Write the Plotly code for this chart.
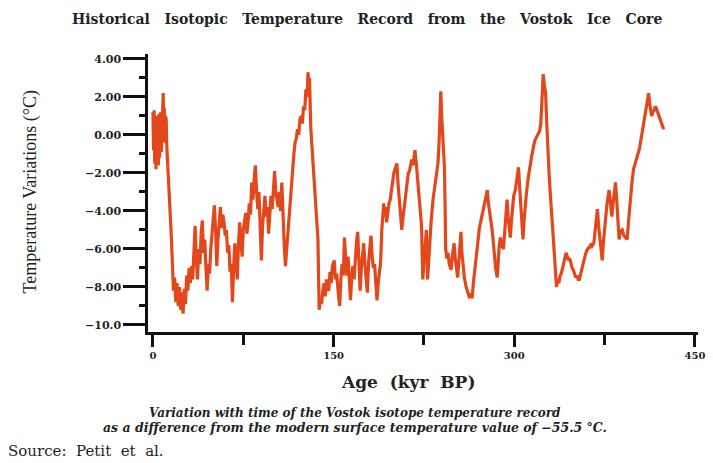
import plotly.graph_objects as go

# Age (kyr BP) and temperature deviation (°C)
age = [0, 0.5, 1, 1.5, 2, 2.5, 3, 3.5, 4, 4.5, 5, 5.5, 6, 6.5, 7, 7.5, 8, 8.5, 9, 9.5,
       10, 10.5, 11, 11.5, 12, 13, 14, 15, 16, 17, 18, 19, 20, 21, 22, 23, 24, 25, 26, 27,
       28, 29, 30, 31, 32, 33, 34, 35, 36, 37, 38, 39, 40, 41, 42, 43, 44, 45, 46, 47,
       48, 49, 50, 51, 52, 53, 54, 55, 56, 57, 58, 59, 60, 61, 62, 63, 64, 65, 66, 67,
       68, 69, 70, 71, 72, 73, 74, 75, 76, 77, 78, 79, 80, 81, 82, 83, 84, 85, 86, 87,
       88, 89, 90, 91, 92, 93, 94, 95, 96, 97, 98, 99, 100, 101, 102, 103, 104, 105, 106, 107,
       108, 109, 110, 111, 112, 113, 114, 115, 116, 117, 118, 119, 120, 121, 122, 123, 124, 125, 126, 127,
       128, 128.7, 129.5, 130, 131, 132, 133, 134, 135, 136, 137, 137.5, 138, 139, 140, 141, 142, 143, 144, 145,
       146, 147, 148, 149, 150.5, 151.5, 152.5, 154, 155, 156, 157, 158, 159, 160, 161, 162, 163, 164, 165, 166,
       167, 168, 169, 170, 171, 172, 173, 174, 175, 176, 177, 178, 179, 180, 181, 182, 183, 184, 185, 186,
       187, 188, 189, 190, 191, 191.6, 192.5, 193, 194, 195, 196, 197, 198, 199, 200, 201, 202.5, 203.5, 204.5, 205.5,
       206.6, 207.5, 208.5, 209.5, 210.7, 212, 213, 214.8, 216, 217.5, 218.5, 220, 221, 222, 223, 224, 225, 226, 227, 228,
       229, 230, 231, 232.5, 233.5, 234.5, 235.5, 236.6, 237.5, 238.3, 239, 239.7, 240.5, 241.3, 242, 242.6, 243, 244, 245, 246,
       247.5, 248.5, 250, 251, 252, 253, 254, 255.7, 256.5, 257.5, 258.5, 260, 261.5, 262.5, 264, 265, 266, 267, 268, 269,
       270, 271, 272, 273, 274, 275, 276, 277.6, 278.5, 279.5, 280.5, 281.6, 282.5, 283.5, 284.5, 285.8, 286.5, 287.5, 288.5, 289.5,
       291, 292, 293, 294, 295, 296.7, 297.5, 298.5, 299.5, 300.8, 302, 303.5, 304.5, 305.5, 306.5, 307.2, 308, 309, 310, 311.7,
       313, 314.5, 316, 317, 318.5, 320, 321, 322, 323, 324, 325, 326, 327, 328, 329, 330, 331, 332, 333.6, 335,
       336, 337, 338, 339, 340, 341, 342, 343, 344, 345, 346, 347, 348, 349, 350, 351, 352, 353, 354, 355,
       356, 357, 358, 359, 360, 361, 362, 363, 364, 365, 366, 367, 368, 369, 370, 371, 372, 373, 374, 375,
       376, 377, 378.7, 380, 381, 382, 383, 384, 385, 386, 387, 388, 389.6, 391, 392, 393.7, 394.5, 395.5, 396.5, 397.5,
       399, 400, 401, 402, 403, 404, 405, 406, 407, 408, 409, 410, 411.5, 412.5, 413.5, 414, 415, 416, 417, 418,
       419, 420, 421, 422, 423, 424]

temp = [1.2, -0.8, 1.3, -1.5, 0.9, -1.8, 1.0, -0.6, 0.4, -1.6, 1.1, -1.2, 0.7, 1.2, -0.9, 0.5, 1.8, 2.2, 0.6, 1.4,
        -0.4, 1.0, 0.8, -0.6, -1.2, -2.0, -3.5, -5.0, -6.5, -8.2, -7.5, -8.8, -7.8, -9.0, -8.0, -9.2, -8.3, -9.4, -8.1, -8.9,
        -7.4, -8.2, -7.0, -7.8, -6.9, -7.6, -6.2, -4.8, -6.5, -7.6, -6.0, -6.8, -5.2, -4.5, -6.2, -5.5, -7.0, -8.2, -6.8, -7.3,
        -6.0, -5.2, -4.2, -3.7, -5.0, -6.9, -5.5, -4.4, -3.8, -4.9, -4.2, -4.6, -5.3, -5.0, -6.2, -5.8, -7.2, -6.8, -8.8, -7.0,
        -5.7, -6.6, -7.6, -5.8, -4.6, -5.5, -6.4, -5.0, -4.5, -4.1, -5.2, -4.6, -3.6, -4.2, -2.5, -3.4, -2.4, -1.6, -2.9, -3.9,
        -3.0, -5.2, -6.6, -4.8, -3.9, -3.2, -4.3, -3.8, -5.2, -4.0, -3.2, -3.9, -2.6, -1.9, -3.0, -3.4, -3.8, -3.0, -4.0, -2.5,
        -4.5, -5.8, -6.9, -6.0, -5.4, -4.2, -3.2, -2.5, -1.8, -1.0, -0.4, -0.2, 0.3, 0.0, 0.8, 1.0, 0.6, 1.5, 1.3, 2.4,
        2.0, 3.3, 2.6, 3.0, 0.4, -0.6, -1.5, -2.4, -3.5, -4.6, -5.5, -7.5, -9.2, -8.6, -8.9, -8.2, -7.8, -8.5, -7.6, -8.0,
        -8.2, -7.2, -7.8, -6.9, -6.6, -7.6, -7.3, -8.4, -9.0, -7.6, -6.8, -7.4, -5.4, -6.5, -7.4, -6.4, -7.8, -8.7, -7.5, -6.9,
        -7.6, -6.2, -5.6, -5.1, -6.8, -8.2, -7.0, -6.3, -5.7, -6.8, -7.6, -8.3, -6.7, -5.9, -5.3, -6.4, -7.0, -6.8, -7.9, -8.7,
        -7.8, -7.2, -6.7, -5.0, -4.0, -3.6, -4.3, -3.8, -4.6, -4.0, -3.6, -3.4, -2.9, -2.4, -2.0, -1.8, -1.5, -2.6, -3.5, -4.2,
        -5.0, -4.4, -3.9, -3.2, -2.9, -2.0, -1.9, -1.3, -1.6, -0.8, -1.4, -2.5, -3.4, -4.0, -4.8, -7.6, -6.5, -5.8, -5.0, -7.6,
        -6.4, -5.6, -4.5, -3.4, -3.0, -2.4, -2.0, -1.5, -0.5, 1.0, 2.3, 1.0, 0.0, -0.8, -1.7, -4.0, -6.0, -6.5, -6.2, -6.8,
        -7.1, -6.4, -5.7, -6.5, -7.0, -7.5, -6.6, -5.1, -6.2, -6.9, -7.5, -8.0, -8.3, -8.5, -8.4, -8.6, -7.8, -7.2, -6.5, -6.0,
        -5.4, -4.9, -4.6, -4.3, -3.9, -3.5, -3.2, -2.9, -3.6, -4.0, -4.6, -5.0, -5.6, -6.5, -7.0, -7.5, -6.6, -5.8, -5.4, -5.8,
        -6.0, -5.0, -4.1, -3.4, -4.4, -5.4, -4.6, -3.9, -3.2, -2.9, -2.2, -1.7, -2.8, -3.9, -4.8, -5.5, -4.6, -3.8, -3.1, -2.2,
        -1.6, -1.1, -0.6, -0.3, -0.1, 0.1, 0.2, 0.6, 1.6, 3.2, 2.6, 2.2, 0.5, -1.1, -2.2, -3.2, -4.0, -5.0, -6.6, -8.0,
        -7.6, -7.8, -7.4, -7.3, -7.0, -6.7, -6.5, -6.2, -6.4, -6.6, -6.5, -6.8, -7.0, -7.1, -7.3, -7.5, -7.4, -7.6, -7.6, -7.3,
        -7.0, -6.8, -6.6, -6.3, -6.1, -6.0, -5.9, -5.9, -5.7, -5.8, -5.7, -5.1, -4.5, -3.9, -4.8, -5.5, -6.2, -6.6, -5.6, -4.8,
        -4.3, -3.6, -2.9, -3.8, -4.3, -3.6, -2.9, -2.5, -3.4, -4.6, -5.5, -5.1, -5.0, -5.3, -5.4, -5.5, -4.8, -4.0, -3.2, -2.6,
        -1.8, -1.6, -1.3, -1.2, -1.0, -0.7, -0.3, 0.1, 0.4, 0.8, 1.2, 1.6, 2.2, 1.6, 1.2, 1.0, 1.2, 1.3, 1.5, 1.4,
        1.2, 1.0, 0.8, 0.6, 0.4, 0.3]

x_tickvals = [0, 150, 300, 450]
x_ticktext = ["0", "150", "300", "450"]
x_minor = [75, 225, 375]
y_tickvals = [4, 2, 0, -2, -4, -6, -8, -10]
y_ticktext = ["4.00", "2.00", "0.00", "\u22122.00", "\u22124.00", "\u22126.00", "\u22128.00", "\u221210.0"]
y_minor = [3, 1, -1, -3, -5, -7, -9]

LINE = "#E2481C"
SERIF = "DejaVu Serif"
SP = "\u00a0"

fig = go.Figure()
fig.add_trace(go.Scatter(x=age, y=temp, mode="lines",
                         line=dict(color=LINE, width=3.2), hoverinfo="skip"))

fig.update_layout(
    width=713, height=463,
    margin=dict(l=148, r=8, t=54, b=131),
    paper_bgcolor="white", plot_bgcolor="white",
    showlegend=False,
    xaxis=dict(range=[-4.1, 452.5], showgrid=False, zeroline=False,
               showline=True, linecolor="#111", linewidth=2.5,
               tickmode="array", tickvals=x_tickvals, ticktext=x_ticktext,
               ticks="outside", ticklen=12, tickwidth=3, tickcolor="#111",
               minor=dict(tickvals=x_minor, ticks="outside", ticklen=10, tickwidth=3, tickcolor="#111"),
               tickfont=dict(family=SERIF, size=10, color="#222", weight="bold")),
    yaxis=dict(range=[-10.37, 4.26], showgrid=False, zeroline=False,
               showline=True, linecolor="#111", linewidth=2.5,
               tickmode="array", tickvals=y_tickvals, ticktext=y_ticktext,
               ticks="outside", ticklen=22, tickwidth=2.5, tickcolor="#111",
               minor=dict(tickvals=y_minor, ticks="outside", ticklen=6, tickwidth=2.5, tickcolor="#111"),
               tickfont=dict(family=SERIF, size=11, color="#222", weight="bold")),
)

def px_x(px):
    return (px - 148) / 557.0

def px_y(py):
    return (332 - py) / 278.0

def spaced(s, n=2):
    return (SP * n).join(s.split(" "))

annots = [
    dict(text=spaced("Historical Isotopic Temperature Record from the Vostok Ice Core", 3),
         x=px_x(370), y=px_y(19), font=dict(family=SERIF, size=14, color="#222", weight="bold")),
    dict(text="Temperature Variations (\u00b0C)", x=px_x(28), y=px_y(192), textangle=-90,
         font=dict(family="Liberation Serif", size=18, color="#222")),
    dict(text=spaced("Age (kyr BP)"), x=px_x(411), y=px_y(382),
         font=dict(family=SERIF, size=17, color="#222", weight="bold")),
    dict(text=spaced("Variation with time of the Vostok isotope temperature record", 1),
         x=px_x(358), y=px_y(413),
         font=dict(family=SERIF, size=12, color="#222", weight="bold", style="italic")),
    dict(text=spaced("as a difference from the modern surface temperature value of \u221255.5 \u00b0C.", 1),
         x=px_x(358), y=px_y(427),
         font=dict(family=SERIF, size=12.5, color="#222", weight="bold", style="italic")),
    dict(text=spaced("Source: Petit et al."), x=px_x(4), y=px_y(451), xanchor="left",
         font=dict(family=SERIF, size=15, color="#222")),
]
for a in annots:
    a.setdefault("xanchor", "center")
    a.update(xref="paper", yref="paper", showarrow=False, yanchor="middle")
    fig.add_annotation(**a)

fig.write_html("out.html", config={"displayModeBar": False},
               post_script="document.body.style.margin='0';")
